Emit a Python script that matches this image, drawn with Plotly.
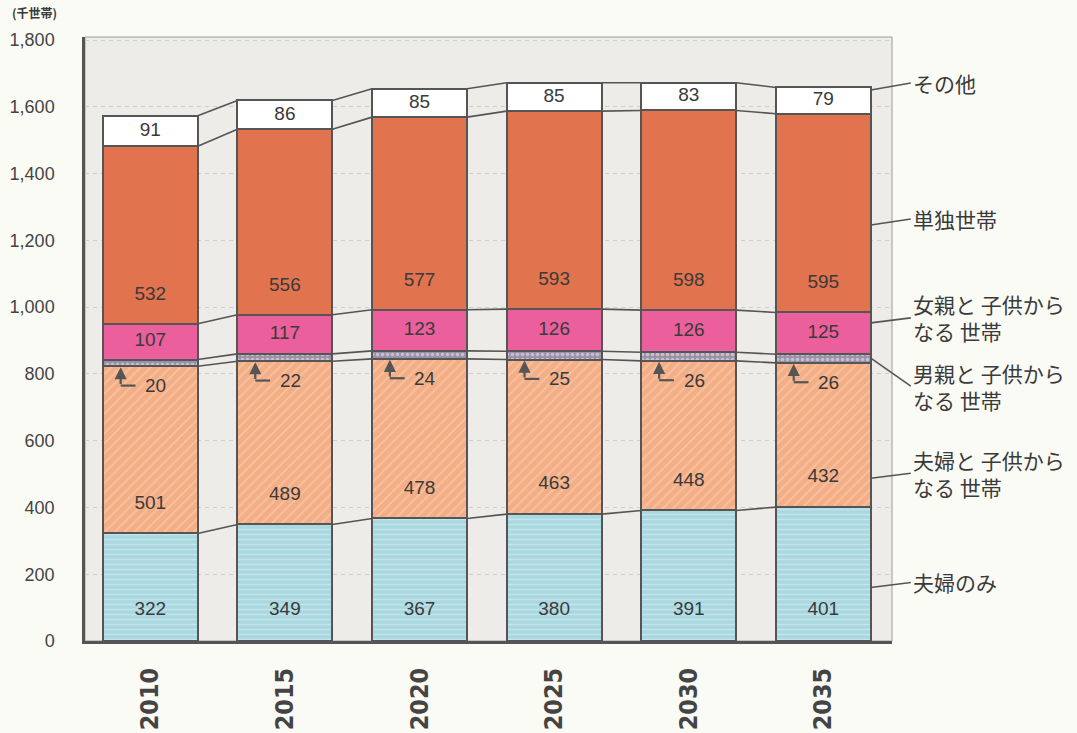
import plotly.graph_objects as go

# ---- data (千世帯) ----
years = ['2010', '2015', '2020', '2025', '2030', '2035']
fufu_nomi = [322, 349, 367, 380, 391, 401]        # 夫婦のみ
fufu_kodomo = [501, 489, 478, 463, 448, 432]      # 夫婦と子供からなる世帯
otoko_oya = [20, 22, 24, 25, 26, 26]              # 男親と子供からなる世帯
onna_oya = [107, 117, 123, 126, 126, 125]         # 女親と子供からなる世帯
tandoku = [532, 556, 577, 593, 598, 595]          # 単独世帯
sonota = [91, 86, 85, 85, 83, 79]                 # その他

series = [
    ('夫婦のみ', fufu_nomi),
    ('夫婦と 子供から<br>なる 世帯', fufu_kodomo),
    ('男親と 子供から<br>なる 世帯', otoko_oya),
    ('女親と 子供から<br>なる 世帯', onna_oya),
    ('単独世帯', tandoku),
    ('その他', sonota),
]

# ---- style ----
paper = '#fbfbf6'
plotbg = '#eeece8'
edge = '#555555'
txt = '#3a3a3a'
bw = 0.705
xs = list(range(len(years)))

styles = [
    dict(color='#a9d8e1', pattern=dict(shape='-', fgcolor='#dcf0f3', size=5, solidity=0.3)),
    dict(color='#f4ae86', pattern=dict(shape='/', fgcolor='#fad8c0', size=7, solidity=0.25)),
    dict(color='#9a90a8', pattern=dict(shape='.', fgcolor='#f4f0f6', size=5, solidity=0.4)),
    dict(color='#ea5f9c'),
    dict(color='#e2734f'),
    dict(color='#ffffff'),
]

fig = go.Figure()

# cumulative boundaries of the stack
bases = [[0] * len(years)]
for name, vals in series:
    bases.append([b + v for b, v in zip(bases[-1], vals)])

for (name, vals), st in zip(series, styles):
    fig.add_trace(go.Bar(
        x=xs, y=vals, width=bw, name=name,
        marker=dict(line=dict(color=edge, width=2), **st),
        hoverinfo='skip'
    ))

# connector lines between bars at every boundary
for k in range(1, len(bases)):
    cx, cy = [], []
    for i in range(len(years) - 1):
        cx += [i + bw / 2, i + 1 - bw / 2, None]
        cy += [bases[k][i], bases[k][i + 1], None]
    fig.add_trace(go.Scatter(x=cx, y=cy, mode='lines',
                             line=dict(color=edge, width=1.6), hoverinfo='skip'))

# value labels
lab_x, lab_y, lab_t = [], [], []
for i in xs:
    lab_x += [i] * 5
    lab_y += [92,
              bases[1][i] + 88,
              bases[3][i] + onna_oya[i] / 2,
              bases[4][i] + 86,
              bases[5][i] + sonota[i] / 2]
    lab_t += [str(fufu_nomi[i]), str(fufu_kodomo[i]), str(onna_oya[i]),
              str(tandoku[i]), str(sonota[i])]
fig.add_trace(go.Scatter(x=lab_x, y=lab_y, text=lab_t, mode='text',
                         textfont=dict(family='Liberation Sans', size=19, color=txt),
                         hoverinfo='skip'))

# small bent arrows for 男親と子供
for i in xs:
    base = bases[2][i]
    ly = base - 58
    fig.add_annotation(x=i - 0.22, y=base, ax=i - 0.22, ay=ly, axref='x', ayref='y',
                       text='', showarrow=True, arrowhead=2, arrowsize=1.1,
                       arrowwidth=2.2, arrowcolor=edge, standoff=1)
    fig.add_shape(type='line', x0=i - 0.22, x1=i - 0.11, y0=ly, y1=ly,
                  line=dict(color=edge, width=2.2))
    fig.add_annotation(x=i + 0.04, y=ly, text=str(otoko_oya[i]), showarrow=False,
                       font=dict(family='Liberation Sans', size=19, color=txt))

# series names on the right with leader lines
lead_frac = [0.4, 0.2, 0.55, 0.75, 0.44, 0.9]
lead_dy = [-5, -5, 28, -5, -6, -7]
last = len(years) - 1
for k, ((name, vals), fr, dy) in enumerate(zip(series, lead_frac, lead_dy)):
    fig.add_annotation(x=last + bw / 2, y=bases[k][last] + fr * vals[last],
                       ax=40, ay=dy, text=name, xanchor='left', align='left',
                       showarrow=True, arrowhead=0, arrowwidth=1.6, arrowcolor=edge,
                       font=dict(family='Noto Sans CJK JP', size=21, color=txt))

# unit label
fig.add_annotation(xref='paper', yref='paper', x=-0.093, y=1.04, xanchor='left',
                   yanchor='middle', text='<b>(千世帯)</b>', showarrow=False,
                   font=dict(family='Noto Sans CJK JP', size=12, color=txt))

# plot frame
fig.add_shape(type='rect', xref='paper', yref='paper', x0=0, x1=1, y0=0, y1=1,
              line=dict(color='#9a9a9a', width=1), layer='below')

fig.update_layout(
    width=1077, height=733,
    paper_bgcolor=paper, plot_bgcolor=plotbg,
    barmode='stack', showlegend=False,
    margin=dict(l=85, r=185, t=37, b=92),
    font=dict(family='Liberation Sans', color=txt),
)

fig.update_xaxes(
    range=[-0.485, 5.51], tickvals=xs, ticktext=years, tickangle=-90,
    tickfont=dict(family='DejaVu Sans Condensed', size=25, color='#444444', weight='bold'),
    ticklabelstandoff=14, showgrid=False, zeroline=False, automargin=False,
    showline=True, linecolor=edge, linewidth=2.5
)
fig.update_yaxes(
    range=[0, 1809], tickvals=list(range(0, 1801, 200)), automargin=False,
    tickformat=',', tickfont=dict(family='Liberation Sans', size=18, color='#444444'),
    ticklabelstandoff=24, showgrid=True, gridcolor='#cdcdcd', griddash='4px,4px',
    gridwidth=1, zeroline=False, showline=True, linecolor=edge, linewidth=2.5
)

fig.write_html('out.html', config={'displayModeBar': False},
               post_script="document.body.style.margin='0';")
